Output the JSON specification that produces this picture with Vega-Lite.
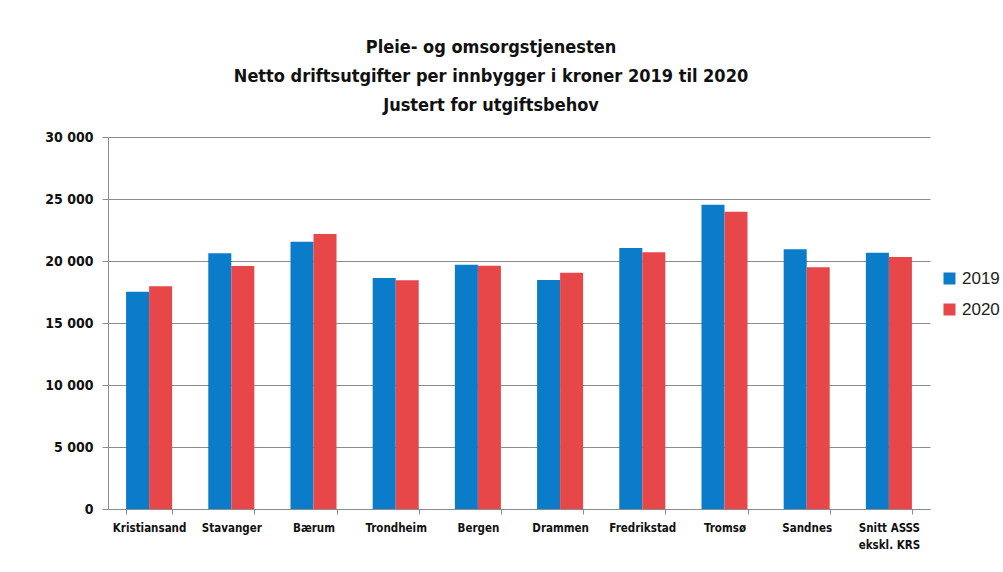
{
  "$schema": "https://vega.github.io/schema/vega-lite/v6.json",
  "autosize": "none",
  "width": 822,
  "height": 372,
  "padding": {"left": 108, "top": 137, "right": 73, "bottom": 63},
  "background": "white",
  "title": {
    "text": ["Pleie- og omsorgstjenesten", "Netto driftsutgifter per innbygger i kroner 2019 til 2020", "Justert for utgiftsbehov"],
    "font": "DejaVu Sans Condensed, sans-serif",
    "fontSize": 18,
    "fontWeight": "bold",
    "color": "#111111",
    "lineHeight": 29,
    "anchor": "middle",
    "dx": -28,
    "offset": 15
  },
  "data": {
    "values": [
      {"kommune": "Kristiansand", "year": "2019", "value": 17520},
      {"kommune": "Kristiansand", "year": "2020", "value": 17960},
      {"kommune": "Stavanger", "year": "2019", "value": 20620},
      {"kommune": "Stavanger", "year": "2020", "value": 19600},
      {"kommune": "Bærum", "year": "2019", "value": 21560},
      {"kommune": "Bærum", "year": "2020", "value": 22180},
      {"kommune": "Trondheim", "year": "2019", "value": 18630},
      {"kommune": "Trondheim", "year": "2020", "value": 18440},
      {"kommune": "Bergen", "year": "2019", "value": 19700},
      {"kommune": "Bergen", "year": "2020", "value": 19620},
      {"kommune": "Drammen", "year": "2019", "value": 18470},
      {"kommune": "Drammen", "year": "2020", "value": 19060},
      {"kommune": "Fredrikstad", "year": "2019", "value": 21050},
      {"kommune": "Fredrikstad", "year": "2020", "value": 20700},
      {"kommune": "Tromsø", "year": "2019", "value": 24540},
      {"kommune": "Tromsø", "year": "2020", "value": 23980},
      {"kommune": "Sandnes", "year": "2019", "value": 20940},
      {"kommune": "Sandnes", "year": "2020", "value": 19490},
      {"kommune": "Snitt ASSS ekskl. KRS", "year": "2019", "value": 20670},
      {"kommune": "Snitt ASSS ekskl. KRS", "year": "2020", "value": 20320}
    ]
  },
  "mark": {"type": "bar"},
  "encoding": {
    "x": {
      "field": "kommune",
      "type": "nominal",
      "sort": null,
      "scale": {"paddingInner": 0.44, "paddingOuter": 0.22},
      "axis": {
        "title": null,
        "labelAngle": 0,
        "labelFont": "DejaVu Sans Condensed, sans-serif",
        "labelFontSize": 11.5,
        "labelFontWeight": "bold",
        "labelColor": "#111111",
        "labelPadding": 8,
        "labelLineHeight": 17,
        "labelExpr": "datum.label == 'Snitt ASSS ekskl. KRS' ? ['Snitt ASSS', 'ekskl. KRS'] : datum.label",
        "tickBand": "extent",
        "tickSize": 5,
        "tickColor": "#8c8c8c",
        "domainColor": "#8c8c8c"
      }
    },
    "xOffset": {"field": "year", "type": "nominal", "scale": {"paddingInner": 0, "paddingOuter": 0}},
    "y": {
      "field": "value",
      "type": "quantitative",
      "scale": {"domain": [0, 30000]},
      "axis": {
        "title": null,
        "values": [0, 5000, 10000, 15000, 20000, 25000, 30000],
        "labelExpr": "replace(format(datum.value, ','), ',', ' ')",
        "labelFont": "DejaVu Sans Condensed, sans-serif",
        "labelFontSize": 14,
        "labelFontWeight": "bold",
        "labelColor": "#111111",
        "labelPadding": 9,
        "ticks": true,
        "tickSize": 6,
        "tickColor": "#8c8c8c",
        "grid": true,
        "gridColor": "#8c8c8c",
        "gridOpacity": 1,
        "domainColor": "#8c8c8c"
      }
    },
    "color": {
      "field": "year",
      "type": "nominal",
      "scale": {"domain": ["2019", "2020"], "range": ["#0a7cc9", "#e8474a"]},
      "legend": {
        "title": null,
        "orient": "none",
        "legendX": 833,
        "legendY": 133,
        "padding": 0,
        "symbolType": "square",
        "symbolSize": 144,
        "symbolStrokeWidth": 0,
        "labelFont": "Liberation Sans, sans-serif",
        "labelFontSize": 17,
        "labelColor": "#222222",
        "labelOffset": 4,
        "rowPadding": 13
      }
    }
  },
  "config": {"view": {"stroke": null}}
}
